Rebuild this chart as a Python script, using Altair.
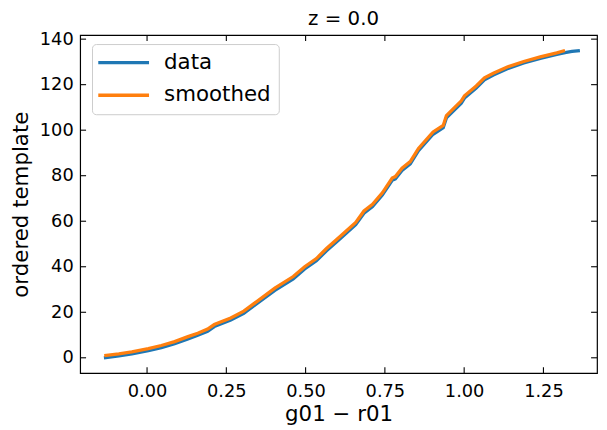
import altair as alt
import pandas as pd

# smoothed curve (x = colour, y = ordered template index)
sm_x = [-0.135, -0.089, -0.048, 0.004, 0.045, 0.087, 0.129, 0.160, 0.191, 0.212,
        0.264, 0.305, 0.347, 0.403, 0.461, 0.497, 0.534, 0.565, 0.606, 0.658,
        0.684, 0.711, 0.742, 0.773, 0.783, 0.804, 0.830, 0.856, 0.902, 0.934,
        0.944, 0.991, 1.001, 1.038, 1.064, 1.092, 1.136, 1.188, 1.240, 1.292, 1.318]
sm_y = [1.0, 1.7, 2.6, 4.0, 5.4, 7.1, 9.3, 10.8, 12.6, 14.6,
        17.5, 20.5, 24.8, 30.6, 35.7, 40.0, 43.6, 47.9, 53.0, 59.5,
        64.5, 67.4, 72.5, 79.0, 79.6, 83.3, 86.2, 92.0, 99.2, 102.1,
        106.4, 112.9, 115.1, 119.4, 123.0, 125.0, 127.8, 130.2, 132.2, 134.0, 135.0]

# raw data curve
dt_x = [-0.136, -0.089, -0.048, 0.004, 0.045, 0.087, 0.129, 0.160, 0.191, 0.212,
        0.264, 0.305, 0.347, 0.403, 0.461, 0.497, 0.534, 0.565, 0.606, 0.658,
        0.684, 0.711, 0.742, 0.773, 0.783, 0.804, 0.830, 0.856, 0.902, 0.934,
        0.944, 0.991, 1.001, 1.038, 1.064, 1.092, 1.136, 1.188, 1.240, 1.292,
        1.318, 1.340, 1.365]
dt_y = [0.0, 0.8, 1.7, 3.1, 4.5, 6.2, 8.3, 9.9, 11.6, 13.7,
        16.6, 19.5, 23.9, 29.6, 34.7, 39.0, 42.6, 46.9, 52.0, 58.5,
        63.5, 66.4, 71.5, 78.0, 78.6, 82.3, 85.2, 91.0, 98.2, 101.1,
        105.4, 111.9, 114.1, 118.5, 122.1, 124.2, 127.0, 129.5, 131.5, 133.3,
        134.1, 134.6, 135.0]

x_ticks = [0.0, 0.25, 0.5, 0.75, 1.0, 1.25]
y_ticks = [0, 20, 40, 60, 80, 100, 120, 140]
series_names = ["data", "smoothed"]
series_colors = ["#1f77b4", "#ff7f0e"]

df = pd.concat([
    pd.DataFrame({"x": dt_x, "y": dt_y, "series": "data", "i": list(range(len(dt_x)))}),
    pd.DataFrame({"x": sm_x, "y": sm_y, "series": "smoothed", "i": list(range(len(sm_x)))}),
], ignore_index=True)

W, H = 523, 342
TL = 6
FONT = "DejaVu Sans"

xs = alt.Scale(domain=[-0.211, 1.419], nice=False, zero=False)
ys = alt.Scale(domain=[-6.75, 141.75], nice=False, zero=False)

xaxis = alt.Axis(values=x_ticks, format=".2f", tickSize=0, labelPadding=10,
                 titlePadding=3, grid=False, domain=False, labelFlush=False)
yaxis = alt.Axis(values=y_ticks, format="d", tickSize=0, labelPadding=7,
                 titlePadding=7, grid=False, domain=False, labelFlush=False)

X = alt.X("x:Q", scale=xs, axis=xaxis, title="g01 − r01")
Y = alt.Y("y:Q", scale=ys, axis=yaxis, title="ordered template")

lines = alt.Chart(df).mark_line(strokeWidth=3.3).encode(
    x=X, y=Y,
    color=alt.Color("series:N",
                    scale=alt.Scale(domain=series_names, range=series_colors),
                    legend=alt.Legend(orient="none", legendX=12, legendY=9, title=None,
                                      symbolType="M-2.49,0L7.78,0", symbolSize=100,
                                      symbolStrokeWidth=3.3, symbolFillColor="transparent",
                                      labelFontSize=21.6,
                                      labelFont=FONT, labelColor="black",
                                      labelOffset=43.3, padding=8, rowPadding=10,
                                      strokeColor="#cccccc", fillColor="white",
                                      cornerRadius=4)),
    order="i:Q",
)

xt = pd.DataFrame({"x": x_ticks})
yt = pd.DataFrame({"y": y_ticks})
tick_style = dict(color="black", strokeWidth=1.1)

bottom = alt.Chart(xt).mark_rule(**tick_style).encode(x=X, y=alt.value(H), y2=alt.value(H - TL))
top = alt.Chart(xt).mark_rule(**tick_style).encode(x=X, y=alt.value(0), y2=alt.value(TL))
left = alt.Chart(yt).mark_rule(**tick_style).encode(y=Y, x=alt.value(0), x2=alt.value(TL))
right = alt.Chart(yt).mark_rule(**tick_style).encode(y=Y, x=alt.value(W), x2=alt.value(W - TL))

chart = alt.layer(lines, bottom, top, left, right).properties(
    width=W, height=H,
    background="white",
    title=alt.TitleParams("z = 0.0", font=FONT, fontSize=20, fontWeight="normal",
                          color="black", offset=1, dx=5),
    autosize=alt.AutoSizeParams(type="none"),
    padding={"left": 73, "top": 25, "right": 2, "bottom": 52},
).configure_view(stroke="black", strokeWidth=1.2).configure_axis(
    labelFont=FONT, labelFontSize=18, labelColor="black",
    titleFont=FONT, titleFontSize=21.6, titleFontWeight="normal", titleColor="black",
)

chart.save("out.html", embed_options={"renderer": "svg", "actions": False})
